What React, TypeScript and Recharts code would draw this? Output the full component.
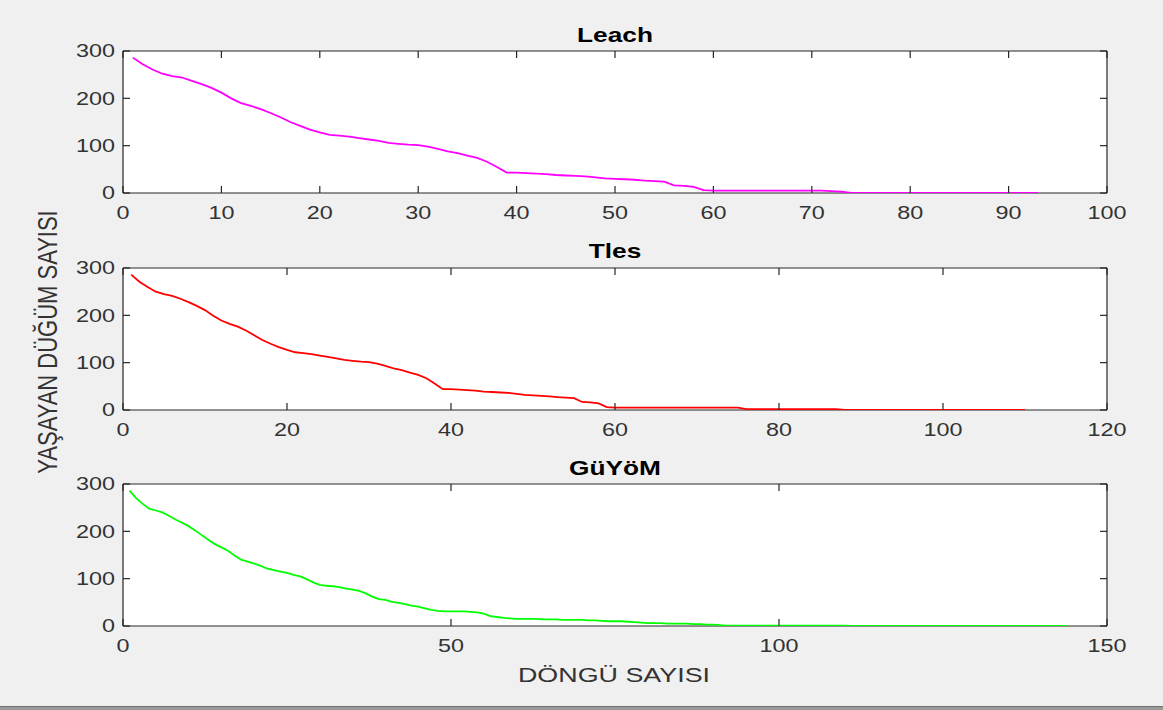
import React from 'react';
import { LineChart, Line, XAxis, YAxis, CartesianGrid } from 'recharts';

// Alive node counts per round
const leachValues = [
  286, 272, 261, 252, 247, 244, 237, 230, 222, 212,
  200, 190, 184, 177, 169, 160, 150, 142, 134, 128,
  123, 121, 119, 116, 113, 110, 106, 104, 102, 101,
  98, 93, 88, 84, 79, 74, 66, 55, 43, 43,
  42, 41, 40, 38, 37, 36, 35, 33, 31, 30,
  29, 28, 26, 25, 24, 16, 15, 13, 6, 5,
  5, 5, 5, 5, 5, 5, 5, 5, 5, 5,
  5, 4, 3, 0, 0, 0, 0, 0, 0, 0,
  0, 0, 0, 0, 0, 0, 0, 0, 0, 0,
  0, 0, 0,
];

const tlesValues = [
  286, 271, 260, 250, 245, 241, 235, 228, 220, 211,
  199, 189, 182, 176, 168, 158, 148, 140, 133, 127,
  122, 120, 118, 115, 112, 109, 106, 104, 102, 101,
  98, 93, 88, 84, 79, 74, 67, 56, 44, 44,
  43, 42, 41, 39, 38, 37, 36, 34, 32, 31,
  30, 29, 27, 26, 25, 17, 16, 14, 6, 5,
  5, 5, 5, 5, 5, 5, 5, 5, 5, 5,
  5, 5, 5, 5, 5, 2, 2, 2, 2, 2,
  2, 2, 2, 2, 2, 2, 2, 0, 0, 0,
  0, 0, 0, 0, 0, 0, 0, 0, 0, 0,
  0, 0, 0, 0, 0, 0, 0, 0, 0, 0,
];

const guyomValues = [
  286, 270, 258, 248, 244, 240, 233, 225, 218, 211,
  202, 192, 182, 173, 166, 159, 149, 140, 136, 132,
  127, 121, 118, 115, 112, 108, 105, 99, 92, 87,
  85, 84, 82, 79, 77, 74, 69, 62, 57, 55,
  51, 49, 46, 43, 41, 37, 34, 32, 31, 31,
  31, 31, 30, 29, 26, 21, 19, 17, 16, 15,
  15, 15, 15, 14, 14, 14, 13, 13, 13, 13,
  12, 12, 11, 10, 10, 10, 9, 8, 7, 6,
  6, 6, 5, 5, 5, 5, 4, 4, 3, 3,
  2, 1, 1, 1, 1, 1, 1, 1, 1, 1,
  1, 1, 1, 1, 1, 1, 1, 1, 1, 1,
  0, 0, 0, 0, 0, 0, 0, 0, 0, 0,
  0, 0, 0, 0, 0, 0, 0, 0, 0, 0,
  0, 0, 0, 0, 0, 0, 0, 0, 0, 0,
  0, 0, 0, 0,
];

const leachXTicks = [0, 10, 20, 30, 40, 50, 60, 70, 80, 90, 100];
const tlesXTicks = [0, 20, 40, 60, 80, 100, 120];
const guyomXTicks = [0, 50, 100, 150];
const yTicks = [0, 100, 200, 300];

const panelTitles = ['Leach', 'Tles', 'GüYöM'];
const xAxisTitle = 'DÖNGÜ SAYISI';
const yAxisTitle = 'YAŞAYAN DÜĞÜM SAYISI';

const toRows = (vals: number[]) => vals.map((v, i) => ({ round: i + 1, alive: v }));

const FONT = '"Liberation Sans", Arial, Helvetica, sans-serif';
const AX = '#262626';
const LABEL = '#333333';

function XTick(props: any) {
  const { x, y, payload } = props;
  return (
    <text
      x={0}
      y={0}
      dy="0.71em"
      transform={`translate(${x},${y}) scale(1.3,1)`}
      textAnchor="middle"
      fontSize={18}
      fontFamily={FONT}
      fill={LABEL}
    >
      {payload.value}
    </text>
  );
}

function YTick(props: any) {
  const { x, y, payload } = props;
  return (
    <text
      x={0}
      y={0}
      dy="0.355em"
      transform={`translate(${x},${y}) scale(1.3,1)`}
      textAnchor="end"
      fontSize={18}
      fontFamily={FONT}
      fill={LABEL}
    >
      {payload.value}
    </text>
  );
}

function NoTick() {
  return <g />;
}

type PanelProps = {
  values: number[];
  color: string;
  xMax: number;
  xTicks: number[];
  top: number;
};

function Panel({ values, color, xMax, xTicks, top }: PanelProps) {
  const rows = toRows(values);
  const h = 240;
  return (
    <div style={{ position: 'absolute', left: 0, top, width: 1163, height: h }}>
      <LineChart
        width={1163}
        height={h}
        data={rows}
        margin={{ top: 50, right: 55, bottom: 22, left: 63 }}
      >
        <CartesianGrid
          xAxisId="b"
          yAxisId="l"
          fill="#ffffff"
          vertical={false}
          horizontal={true}
          horizontalValues={[0]}
          stroke={AX}
          strokeWidth={1.2}
        />
        <XAxis
          xAxisId="b"
          dataKey="round"
          type="number"
          domain={[0, xMax]}
          ticks={xTicks}
          interval={0}
          allowDataOverflow
          height={25}
          tickSize={-7}
          tickMargin={20}
          axisLine={false}
          tickLine={{ stroke: AX, strokeWidth: 1.2 }}
          tick={<XTick />}
        />
        <XAxis
          xAxisId="t"
          orientation="top"
          dataKey="round"
          type="number"
          domain={[0, xMax]}
          ticks={xTicks}
          interval={0}
          allowDataOverflow
          height={1}
          tickSize={-7}
          tickMargin={0}
          axisLine={{ stroke: AX, strokeWidth: 1.2 }}
          tickLine={{ stroke: AX, strokeWidth: 1.2 }}
          tick={<NoTick />}
        />
        <YAxis
          yAxisId="l"
          type="number"
          domain={[0, 300]}
          ticks={yTicks}
          interval={0}
          allowDataOverflow
          width={60}
          tickSize={-7}
          tickMargin={15}
          axisLine={{ stroke: AX, strokeWidth: 1.2 }}
          tickLine={{ stroke: AX, strokeWidth: 1.2 }}
          tick={<YTick />}
        />
        <YAxis
          yAxisId="r"
          orientation="right"
          type="number"
          domain={[0, 300]}
          ticks={yTicks}
          interval={0}
          allowDataOverflow
          width={1}
          tickSize={-7}
          tickMargin={0}
          axisLine={{ stroke: AX, strokeWidth: 1.2 }}
          tickLine={{ stroke: AX, strokeWidth: 1.2 }}
          tick={<NoTick />}
        />
        <Line
          xAxisId="b"
          yAxisId="l"
          type="linear"
          dataKey="alive"
          stroke={color}
          strokeWidth={1.8}
          dot={false}
          activeDot={false}
          isAnimationActive={false}
        />
        <Line
          xAxisId="t"
          yAxisId="r"
          type="linear"
          dataKey="alive"
          stroke="none"
          strokeWidth={0}
          dot={false}
          activeDot={false}
          isAnimationActive={false}
        />
      </LineChart>
    </div>
  );
}

export default function App() {
  return (
    <div
      style={{
        position: 'absolute',
        left: 0,
        top: 0,
        width: 1163,
        height: 710,
        background: '#f0f0f0',
        overflow: 'hidden',
      }}
    >
      <Panel values={leachValues} color="#ff00ff" xMax={100} xTicks={leachXTicks} top={0} />
      <Panel values={tlesValues} color="#ff0000" xMax={120} xTicks={tlesXTicks} top={217} />
      <Panel values={guyomValues} color="#00ff00" xMax={150} xTicks={guyomXTicks} top={433} />
      <svg
        width={1163}
        height={710}
        style={{ position: 'absolute', left: 0, top: 0, pointerEvents: 'none' }}
      >
        {[41.5, 258, 475].map((baseline, i) => (
          <text
            key={panelTitles[i]}
            x={0}
            y={0}
            transform={`translate(615,${baseline}) scale(1.25,1)`}
            textAnchor="middle"
            fontSize={21}
            fontWeight="bold"
            fontFamily={FONT}
            fill="#000000"
          >
            {panelTitles[i]}
          </text>
        ))}
        <text
          x={0}
          y={0}
          transform="translate(614,682) scale(1.28,1)"
          textAnchor="middle"
          fontSize={21}
          fontFamily={FONT}
          fill={LABEL}
        >
          {xAxisTitle}
        </text>
        <text
          x={0}
          y={0}
          transform="translate(57,342) scale(1.28,1) rotate(-90)"
          textAnchor="middle"
          fontSize={22}
          fontFamily={FONT}
          fill={LABEL}
        >
          {yAxisTitle}
        </text>
      </svg>
      <div
        style={{
          position: 'absolute',
          left: 0,
          top: 706,
          width: 1163,
          height: 4,
          background: '#9a9a9a',
          borderTop: '1px solid #707070',
        }}
      />
    </div>
  );
}
